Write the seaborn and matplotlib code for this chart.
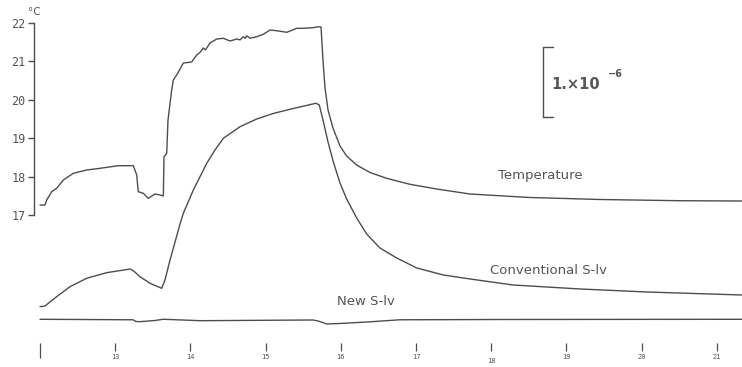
import matplotlib
matplotlib.use("Agg")
import matplotlib.pyplot as plt
import seaborn as sns
import pandas as pd
from matplotlib.transforms import offset_copy

# ---- data -------------------------------------------------------------
# time axis (hours)
temp_time = [12.000, 12.066, 12.089, 12.156, 12.222, 12.310, 12.443, 12.621, 12.798, 13.041,
             13.241, 13.286, 13.307, 13.374, 13.440, 13.529, 13.596, 13.640, 13.649, 13.685,
             13.702, 13.751, 13.773, 13.818, 13.906, 14.017, 14.084, 14.130, 14.172, 14.200,
             14.261, 14.350, 14.438, 14.527, 14.616, 14.660, 14.703, 14.730, 14.749, 14.793,
             14.882, 14.969, 15.059, 15.148, 15.281, 15.414, 15.501, 15.634, 15.701, 15.737,
             15.763, 15.790, 15.830, 15.896, 15.989, 16.078, 16.211, 16.388, 16.610, 16.920,
             17.275, 17.718, 18.516, 19.447, 20.511, 21.335]
temperature = [17.260, 17.260, 17.391, 17.607, 17.695, 17.911, 18.086, 18.172, 18.216, 18.284,
               18.284, 18.042, 17.607, 17.565, 17.435, 17.547, 17.521, 17.495, 18.518, 18.607,
               19.474, 20.255, 20.516, 20.646, 20.958, 20.984, 21.167, 21.240, 21.349, 21.300,
               21.479, 21.583, 21.602, 21.531, 21.583, 21.560, 21.643, 21.600, 21.669, 21.602,
               21.643, 21.706, 21.818, 21.799, 21.758, 21.862, 21.862, 21.878, 21.904, 21.896,
               21.036, 20.307, 19.734, 19.266, 18.797, 18.536, 18.302, 18.107, 17.956, 17.799,
               17.677, 17.547, 17.456, 17.404, 17.372, 17.365]

conv_time = [12.000, 12.066, 12.222, 12.399, 12.621, 12.887, 13.197, 13.241, 13.330, 13.463,
             13.618, 13.662, 13.729, 13.862, 13.906, 14.039, 14.217, 14.327, 14.438, 14.660,
             14.882, 15.102, 15.324, 15.670, 15.714, 15.763, 15.830, 15.901, 15.989, 16.078,
             16.211, 16.344, 16.521, 16.743, 17.009, 17.363, 17.718, 18.290, 19.181, 20.068,
             21.331]
conventional = [0.183, 0.193, 0.326, 0.469, 0.589, 0.669, 0.721, 0.697, 0.611, 0.517,
                0.446, 0.564, 0.850, 1.364, 1.517, 1.850, 2.231, 2.421, 2.589, 2.754,
                2.864, 2.943, 3.003, 3.089, 3.064, 2.850, 2.536, 2.250, 1.950, 1.721,
                1.450, 1.221, 1.021, 0.879, 0.736, 0.636, 0.579, 0.493, 0.436, 0.393,
                0.350]

new_time = [12.000, 13.237, 13.277, 13.330, 13.530, 13.636, 13.729, 14.128, 15.630, 15.697,
            15.813, 15.989, 16.344, 16.787, 18.117, 21.335]
new_slv = [0.003, -0.004, -0.029, -0.031, -0.014, 0.003, 0.000, -0.017, -0.007, -0.021,
           -0.064, -0.057, -0.036, -0.004, 0.000, 0.003]

x_ticks = [12, 13, 14, 15, 16, 17, 18, 19, 20, 21]
x_tick_labels = ["", "13", "14", "15", "16", "17", "18", "19", "20", "21"]
y_ticks = [17, 18, 19, 20, 21, 22]
y_tick_labels = ["17", "18", "19", "20", "21", "22"]

scale_bar = [2.893, 3.893]   # 1 x 10^-6 in strain units (1e-6)

# ---- style --------------------------------------------------------------
sns.set_theme(style="white")
plt.rcParams["font.family"] = ["DejaVu Sans"]
LINE = "#4d4d4d"
TXT = "#555555"

fig = plt.figure(figsize=(7.42, 3.67), dpi=100)
ax = fig.add_axes([0, 24 / 367, 1, 343 / 367])
ax2 = ax.twinx()
ax.set_xlim(11.468, 21.335)
ax.set_ylim(13.667, 22.599)
ax2.set_ylim(-0.3357, 4.564)

df_t = pd.DataFrame({"time": temp_time, "value": temperature})
df_c = pd.DataFrame({"time": conv_time, "value": conventional})
df_n = pd.DataFrame({"time": new_time, "value": new_slv})

kw = dict(color=LINE, lw=1.0, sort=False, estimator=None,
          solid_joinstyle="round", solid_capstyle="round")
sns.lineplot(data=df_t, x="time", y="value", ax=ax, **kw)
sns.lineplot(data=df_c, x="time", y="value", ax=ax2, **kw)
sns.lineplot(data=df_n, x="time", y="value", ax=ax2, **kw)

for a in (ax, ax2):
    a.set_xlabel("")
    a.set_ylabel("")
    for s in a.spines.values():
        s.set_visible(False)

# left temperature axis
ax.spines["left"].set_visible(True)
ax.spines["left"].set_position(("data", 11.92))
ax.spines["left"].set_bounds(17, 22)
ax.spines["left"].set_color(LINE)
ax.spines["left"].set_linewidth(1.0)
ax.set_yticks(y_ticks)
ax.set_yticklabels(y_tick_labels, fontsize=8.5, color=TXT, family="DejaVu Sans Mono")
ax.tick_params(axis="y", left=True, direction="out", length=4, width=1.0,
               color=LINE, pad=2)
ax2.set_yticks([])

# x ticks
ax.set_xticks(x_ticks)
ax.set_xticklabels(x_tick_labels, fontsize=5, color=TXT, family="DejaVu Sans Mono")
ax.tick_params(axis="x", bottom=True, direction="out", length=6, width=0.9,
               color=LINE, pad=2)
ticks = ax.xaxis.get_major_ticks()
ticks[0].tick1line.set_markersize(11)
for t, lab in zip(ticks, ax.get_xticklabels()):
    if lab.get_text() == "18":
        lab.set_transform(offset_copy(lab.get_transform(), fig=fig, y=-4, units="dots"))

ax.text(11.92, 22, "°C", fontsize=7.5, color=TXT, ha="left", va="bottom",
        transform=offset_copy(ax.transData, fig=fig, x=-6, y=6, units="dots"))

# scale bar
sb_x = 18.689
ax2.plot([sb_x, sb_x], scale_bar, color=LINE, lw=1.0)
ax2.plot([sb_x, sb_x + 0.13], [scale_bar[0]] * 2, color=LINE, lw=1.0)
ax2.plot([sb_x, sb_x + 0.13], [scale_bar[1]] * 2, color=LINE, lw=1.0)
ax2.text(sb_x + 0.11, 3.364, "1.×10", fontsize=10.5, fontweight="bold",
         color=TXT, ha="left", va="center")
ax2.text(sb_x + 0.864, 3.50, "−6", fontsize=7, fontweight="bold",
         color=TXT, ha="left", va="center")

# series labels
ax.text(18.09, 18.02, "Temperature", fontsize=9.5, color=TXT, ha="left", va="center")
ax2.text(17.984, 0.707, "Conventional S-lv", fontsize=9.5, color=TXT, ha="left", va="center")
ax2.text(15.949, 0.25, "New S-lv", fontsize=9.5, color=TXT, ha="left", va="center")

fig.savefig("out.png", dpi=100)
